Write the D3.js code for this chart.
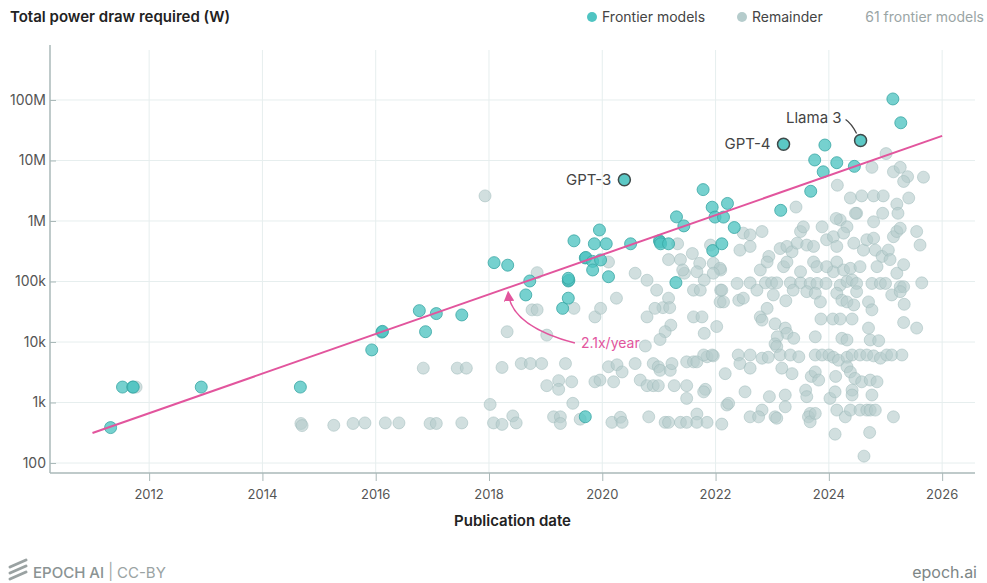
<!DOCTYPE html>
<html>
<head>
<meta charset="utf-8">
<script src="https://cdn.jsdelivr.net/npm/d3@7"></script>
<style>
  body { margin: 0; background: #fff; }
  text { font-family: Inter, "Noto Sans", sans-serif; }
</style>
</head>
<body>
<svg id="chart" width="987" height="583"></svg>
<script>
// frontier models: [publication year, total power draw (W)]
const frontier = [
  [2011.32, 385], [2011.53, 1800], [2011.71, 1800], [2011.72, 1800], [2012.92, 1800],
  [2014.67, 1800], [2015.93, 7400], [2016.11, 14600], [2016.12, 15000], [2016.77, 33000],
  [2016.88, 14800], [2017.07, 29500], [2017.52, 28000], [2018.09, 205000], [2018.33, 186000],
  [2018.65, 60000], [2018.72, 102000], [2019.30, 36000], [2019.40, 53000], [2019.40, 102000],
  [2019.41, 105000], [2019.40, 113000], [2019.50, 470000], [2019.70, 245000], [2019.71, 250000],
  [2019.70, 582], [2019.83, 215000], [2019.83, 155000], [2019.86, 420000], [2019.95, 710000],
  [2019.97, 227000], [2020.07, 420000], [2020.11, 120000], [2020.50, 420000], [2021.01, 470000],
  [2021.02, 450000], [2021.03, 420000], [2021.17, 420000], [2021.30, 96000], [2021.31, 1170000],
  [2021.44, 830000], [2021.78, 3300000], [2021.94, 1690000], [2021.95, 325000], [2021.99, 1160000],
  [2022.11, 420000], [2022.14, 1160000], [2022.21, 1950000], [2022.33, 780000], [2023.15, 1500000],
  [2023.68, 3100000], [2023.75, 10200000], [2023.90, 6500000], [2023.93, 18000000], [2024.14, 9200000],
  [2024.45, 8000000], [2025.13, 104000000], [2025.27, 42000000]
];

// named frontier models
const labelled = [
  {name: "GPT-3", year: 2020.39, watts: 4.8e6},
  {name: "GPT-4", year: 2023.20, watts: 1.86e7},
  {name: "Llama 3", year: 2024.56, watts: 2.14e7}
];

// remaining models
const remainder = [
  [2011.77, 1800], [2014.68, 450], [2014.70, 415], [2015.26, 420], [2015.60, 450], [2015.81, 460],
  [2016.17, 460], [2016.41, 460], [2016.96, 450], [2017.07, 450], [2017.52, 460], [2016.84, 3700],
  [2017.44, 3700], [2017.60, 3700], [2017.93, 2.6e6], [2018.02, 930], [2018.08, 460], [2018.23, 435],
  [2018.42, 600], [2018.48, 460], [2018.23, 3800], [2018.32, 14800], [2018.57, 4400], [2018.73, 4400],
  [2018.93, 4400], [2018.85, 1.4e5], [2018.76, 3.4e4], [2018.85, 3.4e4], [2019.02, 1.3e4], [2019.50, 3.6e4],
  [2019.87, 2.6e4], [2019.97, 3.6e4], [2020.25, 5.3e4], [2020.58, 1.37e5], [2020.79, 1.05e5], [2020.96, 7.2e4],
  [2021.17, 5.3e4], [2021.07, 3.7e4], [2021.19, 3.7e4], [2020.93, 3.6e4], [2020.79, 2.6e4], [2021.21, 1.9e4],
  [2021.11, 1.48e4], [2021.02, 1.1e4], [2020.76, 8600], [2021.61, 7.2e4], [2021.73, 7.2e4], [2021.61, 2.6e4],
  [2021.76, 2.6e4], [2021.80, 1.39e4], [2022.02, 1.8e4], [2022.08, 4.6e4], [2022.09, 7.2e4], [2021.45, 1.37e5],
  [2022.17, 3000], [2022.20, 910], [2022.11, 440], [2019.35, 4400], [2020.11, 3900], [2020.26, 4200],
  [2020.35, 3200], [2020.58, 4400], [2020.90, 4400], [2020.99, 3900], [2021.02, 3400], [2021.20, 3400],
  [2021.23, 4400], [2021.49, 4700], [2021.61, 4700], [2021.67, 4700], [2021.85, 5700], [2021.96, 5900],
  [2019.02, 1900], [2019.23, 2300], [2019.23, 1650], [2019.46, 2200], [2019.87, 2200], [2019.96, 2350],
  [2020.20, 2200], [2020.67, 2350], [2020.79, 1900], [2020.90, 1900], [2020.99, 1900], [2021.27, 1900],
  [2021.49, 1900], [2021.82, 1650], [2021.79, 1500], [2021.49, 1170], [2019.48, 970], [2019.14, 580],
  [2019.26, 580], [2019.26, 450], [2019.61, 530], [2020.17, 470], [2020.32, 570], [2020.35, 470],
  [2020.82, 580], [2021.11, 470], [2021.17, 470], [2021.38, 470], [2021.49, 470], [2021.67, 645],
  [2021.67, 470], [2021.85, 470],
  [2021.80, 1.06e5], [2022.09, 1.55e5], [2022.38, 9.3e4], [2022.61, 9.5e4], [2022.88, 9.5e4], [2022.99, 9.5e4],
  [2023.08, 9.5e4], [2023.32, 9.5e4], [2023.50, 9.5e4], [2023.67, 9.3e4], [2023.79, 9.3e4], [2023.95, 9.3e4],
  [2024.08, 1.45e5], [2024.20, 8.7e4], [2024.32, 1.0e5], [2024.41, 1.06e5], [2024.49, 9.3e4], [2024.76, 9.3e4],
  [2024.91, 9.3e4], [2025.00, 9.3e4], [2025.26, 8.2e4], [2025.32, 8.2e4], [2025.64, 9.5e4], [2022.11, 7.2e4],
  [2022.14, 4.6e4], [2022.41, 4.9e4], [2022.49, 5.3e4], [2023.24, 4.8e4], [2023.61, 6.8e4], [2023.76, 6.4e4],
  [2023.85, 4.6e4], [2024.14, 6.4e4], [2024.23, 4.9e4], [2024.32, 4.6e4], [2024.44, 4.1e4], [2024.49, 6.8e4],
  [2024.70, 4.6e4], [2024.76, 3.4e4], [2025.11, 6.0e4], [2025.26, 6.8e4], [2025.33, 4.2e4],
  [2022.79, 2.6e4], [2022.82, 2.3e4], [2022.91, 3.6e4], [2023.05, 2.0e4], [2023.23, 1.7e4], [2023.26, 1.39e4],
  [2023.09, 1.22e4], [2023.05, 9300], [2023.08, 8400], [2023.14, 6100], [2023.38, 1.15e4], [2023.76, 1.22e4],
  [2023.86, 2.4e4], [2024.07, 2.4e4], [2024.20, 2.4e4], [2024.41, 2.4e4], [2024.23, 1.15e4], [2024.32, 1.08e4],
  [2024.70, 1.7e4], [2024.73, 1.08e4], [2024.88, 1.05e4], [2025.32, 2.1e4], [2025.55, 1.7e4],
  [2021.79, 6100], [2021.94, 6100], [2022.40, 6100], [2022.61, 6100], [2022.82, 5400], [2022.93, 5600],
  [2023.32, 6100], [2023.47, 5700], [2023.76, 6100], [2023.88, 6100], [2024.00, 6100], [2024.08, 5600],
  [2024.17, 5000], [2024.32, 5600], [2024.41, 6100], [2024.55, 6100], [2024.67, 6100], [2024.79, 5900],
  [2024.91, 5400], [2025.02, 6100], [2025.11, 6100], [2025.29, 6100], [2022.43, 4400], [2022.61, 3700],
  [2023.17, 3700], [2023.35, 3000], [2023.69, 2700], [2023.76, 3200], [2023.82, 2350], [2024.12, 2700],
  [2024.32, 3900], [2024.38, 3200], [2024.46, 2500], [2024.58, 2200], [2024.73, 2350], [2024.85, 2200],
  [2022.52, 1500], [2022.95, 1250], [2023.23, 1330], [2023.23, 850], [2023.59, 1600], [2023.61, 1250],
  [2024.02, 1170], [2024.11, 1500], [2024.41, 1600], [2024.41, 1330], [2024.76, 1330], [2022.23, 970],
  [2022.82, 750], [2022.61, 580], [2022.76, 580], [2023.05, 580], [2023.08, 550], [2023.67, 660],
  [2023.64, 580], [2023.67, 480], [2023.76, 660], [2024.14, 750], [2024.29, 580], [2024.38, 750],
  [2024.55, 750], [2024.67, 750], [2024.73, 750], [2024.82, 750], [2025.14, 580], [2024.11, 300],
  [2024.72, 320], [2024.62, 130],
  [2022.49, 6.3e5], [2022.61, 5.9e5], [2022.82, 6.7e5], [2022.94, 2.6e5], [2023.14, 3.5e5], [2023.26, 3.8e5],
  [2023.35, 3.1e5], [2023.44, 4.3e5], [2023.50, 6.7e5], [2023.55, 8.0e5], [2023.61, 4.0e5], [2023.73, 3.8e5],
  [2023.88, 8.0e5], [2023.96, 4.9e5], [2024.08, 5.5e5], [2024.14, 3.8e5], [2024.20, 1.04e6], [2024.32, 8.0e5],
  [2024.26, 6.3e5], [2024.44, 4.3e5], [2024.49, 1.34e6], [2024.61, 3.3e5], [2024.67, 4.9e5], [2024.79, 5.2e5],
  [2024.82, 3.3e5], [2024.94, 2.6e5], [2025.05, 3.3e5], [2025.14, 5.5e5], [2025.20, 6.7e5], [2025.26, 7.6e5],
  [2025.55, 6.7e5], [2025.61, 4.0e5], [2022.43, 3.3e5], [2022.61, 3.8e5], [2022.79, 1.55e5], [2022.91, 2.1e5],
  [2023.20, 1.76e5], [2023.26, 2.1e5], [2023.50, 1.45e5], [2023.73, 2.1e5], [2023.79, 1.76e5], [2023.96, 1.76e5],
  [2024.14, 2.1e5], [2024.26, 1.55e5], [2024.38, 1.65e5], [2024.55, 1.76e5], [2024.85, 1.76e5], [2025.08, 2.3e5],
  [2025.20, 1.37e5], [2025.32, 1.9e5],
  [2025.01, 1.3e7], [2024.76, 7.7e6], [2025.14, 6.5e6], [2025.26, 7.7e6], [2025.39, 5.4e6], [2025.32, 4.5e6],
  [2025.67, 5.3e6], [2024.15, 3.9e6], [2023.42, 1.7e6], [2024.38, 2.4e6], [2024.58, 2.6e6], [2024.79, 2.6e6],
  [2024.96, 2.6e6], [2025.41, 2.4e6], [2025.20, 1.9e6], [2025.22, 1.34e6], [2024.47, 1.34e6], [2024.95, 1.34e6],
  [2024.13, 1.1e6], [2024.79, 9.7e5],
  [2020.11, 2.1e5], [2021.17, 2.3e5], [2021.38, 2.3e5], [2021.59, 2.9e5], [2021.72, 2.0e5], [2021.96, 2.0e5],
  [2022.08, 1.65e5], [2021.91, 4.0e5], [2021.33, 4.2e5], [2021.42, 1.55e5], [2021.67, 1.45e5], [2021.96, 1.37e5],
  [2022.73, 7.2e4], [2023.02, 6.0e4], [2023.37, 7.2e4]
];

// fitted trend (2.1x/year)
const trendYears = [2011, 2026];
const trendWatts = [313, 2.55e7];

const yTicks = [1e2, 1e3, 1e4, 1e5, 1e6, 1e7, 1e8];
const yTickLabels = ["100", "1k", "10k", "100k", "1M", "10M", "100M"];
const xTicks = [2012, 2014, 2016, 2018, 2020, 2022, 2024, 2026];

const svg = d3.select("#chart");
const plot = {left: 50, right: 975, top: 50, bottom: 473};

const x = d3.scaleLinear().domain([2010.25, 2026.58]).range([plot.left, plot.right]);
const y = d3.scaleLog().domain([68.4, 6.7e8]).range([plot.bottom, plot.top]);

svg.append("rect").attr("width", 987).attr("height", 583).attr("fill", "#fff");

// grid
svg.append("g").selectAll("line").data(yTicks).enter().append("line")
  .attr("x1", plot.left).attr("x2", plot.right)
  .attr("y1", d => y(d)).attr("y2", d => y(d))
  .attr("stroke", "#e6eeee").attr("stroke-width", 1);
svg.append("g").selectAll("line").data(xTicks).enter().append("line")
  .attr("x1", d => x(d)).attr("x2", d => x(d))
  .attr("y1", plot.top).attr("y2", plot.bottom)
  .attr("stroke", "#e6eeee").attr("stroke-width", 1);

// axes
const yAxis = d3.axisRight(y).tickValues(yTicks).tickSize(6).tickFormat("");
svg.append("g").attr("transform", "translate(" + plot.left + ",0)").call(yAxis)
  .call(g => g.select(".domain").remove())
  .selectAll("line").attr("stroke", "#aab9b9");
svg.append("g").selectAll("text").data(yTicks).enter().append("text")
  .attr("x", plot.left - 4).attr("y", d => y(d)).attr("dy", "0.35em")
  .attr("text-anchor", "end").attr("font-size", 14).attr("fill", "#555")
  .text((d, i) => yTickLabels[i]);

const xAxis = d3.axisBottom(x).tickValues(xTicks).tickSize(8).tickFormat("");
svg.append("g").attr("transform", "translate(0," + plot.bottom + ")").call(xAxis)
  .call(g => g.select(".domain").remove())
  .selectAll("line").attr("stroke", "#aab9b9");
svg.append("g").selectAll("text").data(xTicks).enter().append("text")
  .attr("x", d => x(d)).attr("y", 499)
  .attr("text-anchor", "middle").attr("font-size", 13).attr("fill", "#555")
  .text(d => d);

svg.append("line").attr("x1", plot.left).attr("x2", plot.left).attr("y1", plot.top - 5).attr("y2", plot.bottom)
  .attr("stroke", "#aab9b9").attr("stroke-width", 1.5);
svg.append("line").attr("x1", plot.left).attr("x2", plot.right).attr("y1", plot.bottom).attr("y2", plot.bottom)
  .attr("stroke", "#aab9b9").attr("stroke-width", 1.5);

// points
svg.append("g").selectAll("circle").data(remainder).enter().append("circle")
  .attr("cx", d => x(d[0])).attr("cy", d => y(d[1])).attr("r", 6)
  .attr("fill", "#b5cccc").attr("fill-opacity", 0.62)
  .attr("stroke", "#9dbaba").attr("stroke-opacity", 0.5);

svg.append("g").selectAll("circle").data(frontier).enter().append("circle")
  .attr("cx", d => x(d[0])).attr("cy", d => y(d[1])).attr("r", 6)
  .attr("fill", "#4fc4c2").attr("fill-opacity", 0.78)
  .attr("stroke", "#38a6a4").attr("stroke-opacity", 0.8);

// trend line
const trend = trendYears.map((d, i) => [d, trendWatts[i]]);
svg.append("path").datum(trend)
  .attr("d", d3.line().x(d => x(d[0])).y(d => y(d[1])))
  .attr("stroke", "#e2559d").attr("stroke-width", 2).attr("fill", "none");

// named models
svg.append("g").selectAll("circle").data(labelled).enter().append("circle")
  .attr("cx", d => x(d.year)).attr("cy", d => y(d.watts)).attr("r", 6)
  .attr("fill", "#5bc8c5").attr("stroke", "#3f4a4a").attr("stroke-width", 1.5);

labelled.forEach(d => {
  const px = x(d.year), py = y(d.watts);
  if (d.name === "Llama 3") {
    svg.append("text").attr("x", px - 19).attr("y", py - 23).attr("dy", "0.35em")
      .attr("text-anchor", "end").attr("font-size", 15).attr("fill", "#444").text(d.name);
    svg.append("path")
      .attr("d", "M" + (px - 15) + "," + (py - 21) + " Q" + (px - 9) + "," + (py - 17) + " " + (px - 4) + "," + (py - 7))
      .attr("stroke", "#444").attr("stroke-width", 1.3).attr("fill", "none");
  } else {
    svg.append("text").attr("x", px - 13).attr("y", py).attr("dy", "0.35em")
      .attr("text-anchor", "end").attr("font-size", 15).attr("fill", "#444").text(d.name);
  }
});

// growth annotation
svg.append("defs").append("marker").attr("id", "arrow")
  .attr("viewBox", "0 0 10 10").attr("refX", 8).attr("refY", 5)
  .attr("markerWidth", 7).attr("markerHeight", 7).attr("orient", "auto")
  .append("path").attr("d", "M0,0 L10,5 L0,10 z").attr("fill", "#e2559d");

const ax0 = x(2019.57), ay0 = y(9600);
const ax1 = x(2018.34), ay1 = y(6.5e4);
svg.append("path")
  .attr("d", "M" + (ax0 - 3) + "," + ay0 + " Q" + (ax1 + 3) + "," + (ay0 - 17) + " " + ax1 + "," + ay1)
  .attr("stroke", "#e2559d").attr("stroke-width", 1.5).attr("fill", "none")
  .attr("marker-end", "url(#arrow)");
svg.append("text").attr("x", ax0 + 3).attr("y", ay0).attr("dy", "0.35em")
  .attr("font-size", 14).attr("fill", "#e2559d").text("2.1x/year");

// titles
svg.append("text").attr("x", 10).attr("y", 22).attr("font-size", 15).attr("font-weight", 600)
  .attr("fill", "#222").text("Total power draw required (W)");
svg.append("text").attr("x", (plot.left + plot.right) / 2).attr("y", 526).attr("text-anchor", "middle")
  .attr("font-size", 15).attr("font-weight", 600).attr("fill", "#222").text("Publication date");

// legend
const legend = svg.append("g");
legend.append("circle").attr("cx", 592).attr("cy", 17).attr("r", 5).attr("fill", "#4fc4c2");
legend.append("text").attr("x", 602).attr("y", 17).attr("dy", "0.35em").attr("font-size", 14)
  .attr("fill", "#444").text("Frontier models");
legend.append("circle").attr("cx", 742).attr("cy", 17).attr("r", 5).attr("fill", "#b5cccc");
legend.append("text").attr("x", 752).attr("y", 17).attr("dy", "0.35em").attr("font-size", 14)
  .attr("fill", "#444").text("Remainder");
legend.append("text").attr("x", 984).attr("y", 17).attr("dy", "0.35em").attr("font-size", 14)
  .attr("text-anchor", "end").attr("fill", "#9aa5a5").text("61 frontier models");

// footer
const logo = svg.append("g").attr("stroke", "#9aa2a2").attr("stroke-width", 3).attr("stroke-linecap", "round");
[0, 6, 12].forEach(o => {
  logo.append("line").attr("x1", 10).attr("y1", 567 + o).attr("x2", 26).attr("y2", 560 + o);
});
svg.append("text").attr("x", 33).attr("y", 578).attr("font-size", 15).attr("font-weight", 500)
  .attr("fill", "#8a9393").text("EPOCH AI");
svg.append("text").attr("x", 108).attr("y", 577).attr("font-size", 16)
  .attr("fill", "#a5adad").text("|");
svg.append("text").attr("x", 117).attr("y", 578).attr("font-size", 15)
  .attr("fill", "#9aa3a3").text("CC-BY");
svg.append("text").attr("x", 977).attr("y", 578).attr("text-anchor", "end").attr("font-size", 16)
  .attr("fill", "#7d8686").text("epoch.ai");
</script>
</body>
</html>
